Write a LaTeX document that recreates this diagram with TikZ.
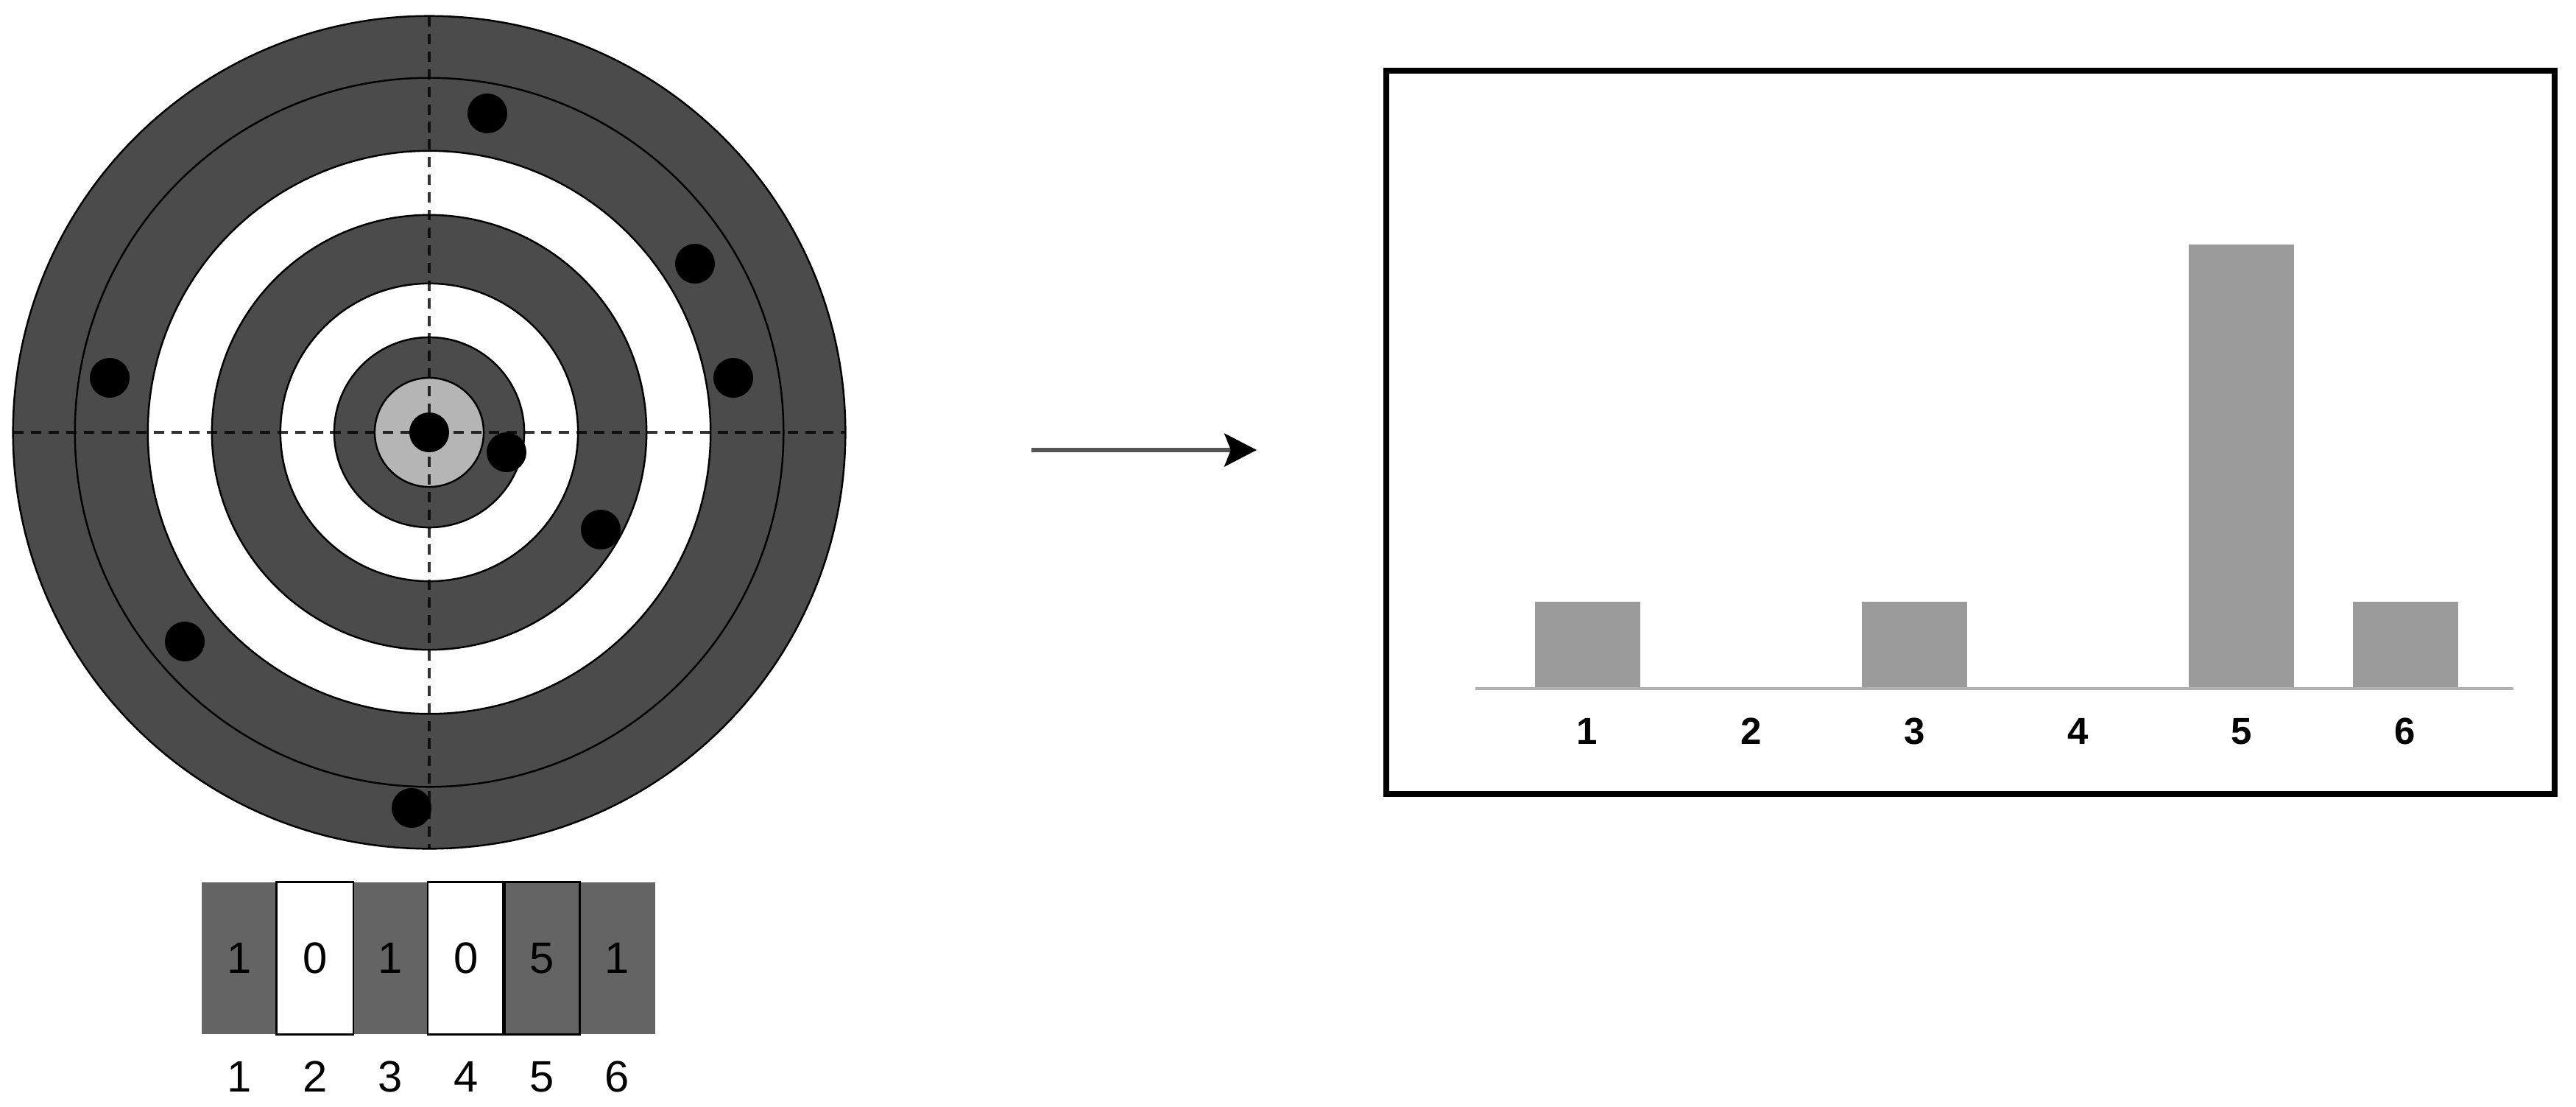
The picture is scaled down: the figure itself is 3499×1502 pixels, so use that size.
\documentclass[tikz,border=0pt]{standalone}
\usepackage{fontspec}
\setmainfont{Liberation Sans}
\usetikzlibrary{arrows.meta}
\definecolor{ringdark}{HTML}{4B4B4B}
\definecolor{ringlight}{HTML}{B5B5B5}
\definecolor{celldark}{HTML}{646464}
\definecolor{bargray}{HTML}{9B9B9B}
\definecolor{axisgray}{HTML}{B0B0B0}
\definecolor{arrowgray}{HTML}{555555}

\begin{document}
\begin{tikzpicture}[x=0.01cm,y=-0.01cm,
      ring/.style={draw=black,line width=0.7pt},
      shot/.style={fill=black},
      cross/.style={draw=black,draw opacity=0.8,line width=1.3pt,dash pattern=on 4pt off 2.8pt},
      cell/.style={draw=none,minimum width=1.026cm,minimum height=2.05cm,inner sep=0pt,font=\fontsize{17}{20}\selectfont},
      cellline/.style={draw=black,line width=0.8pt},
      ringlab/.style={inner sep=0pt,font=\fontsize{17}{20}\selectfont},
      barlab/.style={inner sep=0pt,font=\bfseries\fontsize{14.5}{17}\selectfont},
      bar/.style={fill=bargray},
      chartframe/.style={draw=black,line width=2.2pt}]
      \useasboundingbox (0,0) rectangle (3499,1502);
      \coordinate (tc) at (583,587);
      \foreach \r/\c in {5.65/ringdark,4.81/ringdark,3.82/white,2.95/ringdark,2.02/white,1.29/ringdark,0.74/ringlight}
        \draw[ring,fill=\c] (tc) circle [radius=\r cm];
      \fill[shot] (tc) circle [radius=0.27cm];
      \foreach \x/\y in {662/154,944/358,996/513,149/513,251/871,559/1097,816/719,688/614}
        \fill[shot] (\x,\y) circle [radius=0.27cm];
      \draw[cross] (18,587) -- (1148,587);
      \draw[cross] (583,22) -- (583,1152);
      \foreach \v/\f [count=\i] in {1/celldark,0/white,1/celldark,0/white,5/celldark,1/celldark}{
        \node[cell,fill=\f] (c\i) at ({222.7+\i*102.6},1301) {\v};
        \node[ringlab] (l\i) at ({222.7+\i*102.6},1462) {\i};
      }
      \foreach \i in {2,4,5}
        \draw[cellline] (c\i.north west) rectangle (c\i.south east);
      \coordinate (a1) at (1401,611);
      \coordinate (a2) at (1707,611);
      \draw[arrowgray,line width=1.5pt,-{Stealth[length=12.5pt,width=12.8pt,inset=2.5pt,color=black]}] (a1) -- (a2);
      \draw[chartframe] (1883,96) rectangle (3470,1078);
      \foreach \n/\h in {1/817,3/817,5/332,6/817}
        \fill[bar] ({2156+(\n-1)*222.2-71.5},935) rectangle ({2156+(\n-1)*222.2+71.5},\h);
      \draw[axisgray,line width=1.1pt] (2004,935) -- (3414,935);
      \foreach \i in {1,...,6}
        \node[barlab] (b\i) at ({2156+(\i-1)*222.2},993) {\i};
\end{tikzpicture}
\end{document}
